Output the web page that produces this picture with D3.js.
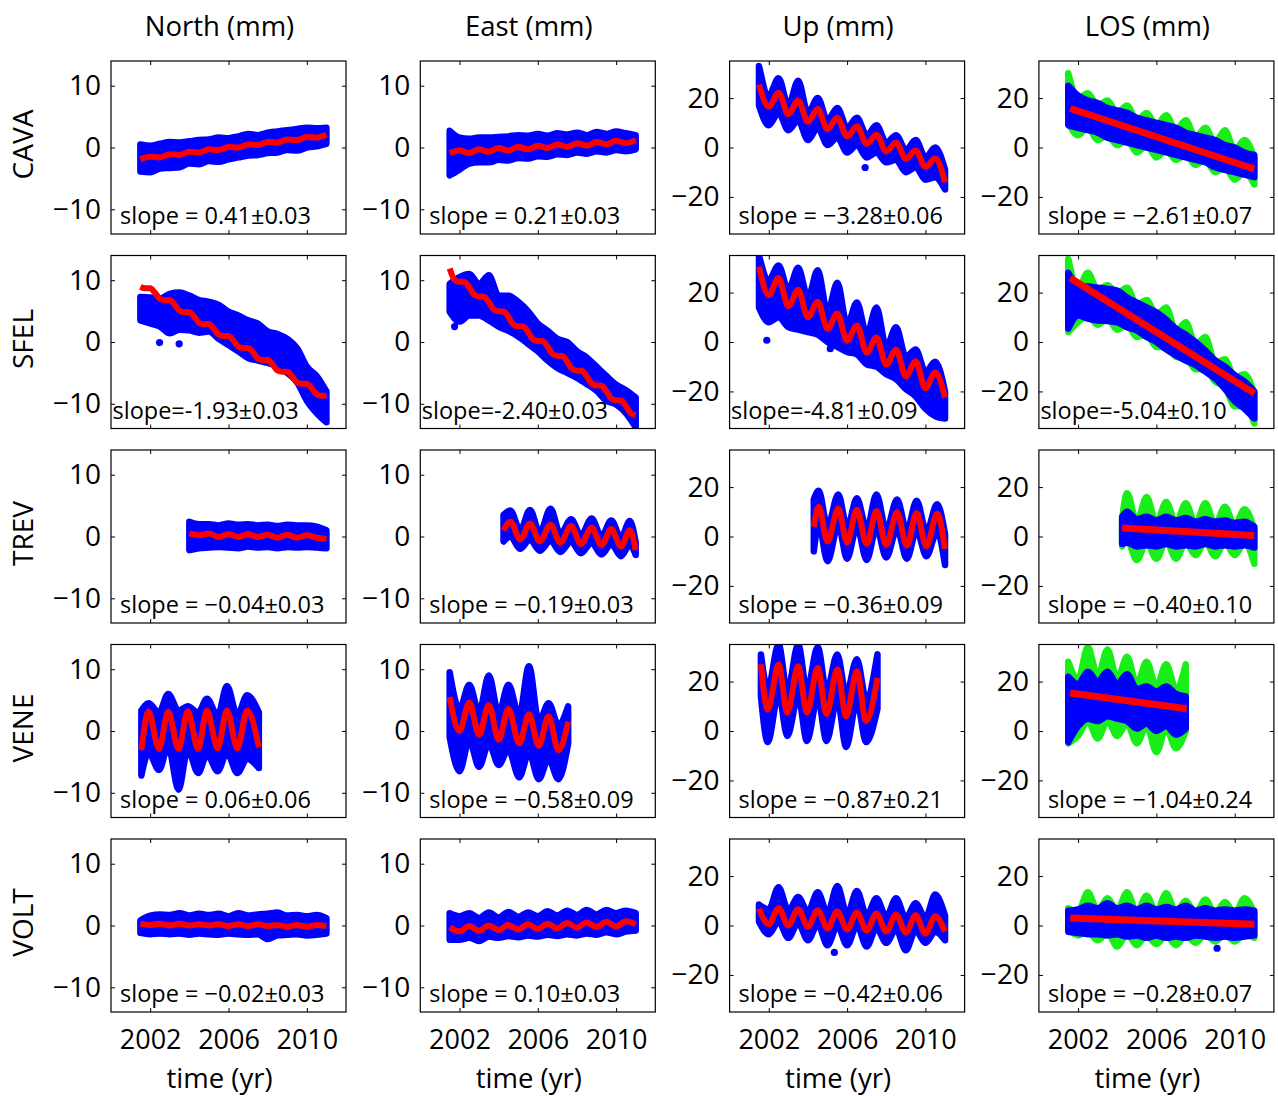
<!DOCTYPE html>
<html><head><meta charset="utf-8">
<script src="https://cdn.jsdelivr.net/npm/d3@7"></script>
<style>body{margin:0;background:#fff}svg{display:block}</style>
</head><body><svg id="c" width="1278" height="1096"></svg>
<script>
// ---------- labels ----------
const stations = ["CAVA","SFEL","TREV","VENE","VOLT"];
const components = ["North (mm)","East (mm)","Up (mm)","LOS (mm)"];
const xTicks = [2002, 2006, 2010];
const yTicksHoriz = [-10, 0, 10];
const yTicksVert = [-20, 0, 20];
const xLabel = "time (yr)";
const slopeLabels = [
  ["slope = 0.41\u00b10.03","slope = 0.21\u00b10.03","slope = \u22123.28\u00b10.06","slope = \u22122.61\u00b10.07"],
  ["slope=-1.93\u00b10.03","slope=-2.40\u00b10.03","slope=-4.81\u00b10.09","slope=-5.04\u00b10.10"],
  ["slope = \u22120.04\u00b10.03","slope = \u22120.19\u00b10.03","slope = \u22120.36\u00b10.09","slope = \u22120.40\u00b10.10"],
  ["slope = 0.06\u00b10.06","slope = \u22120.58\u00b10.09","slope = \u22120.87\u00b10.21","slope = \u22121.04\u00b10.24"],
  ["slope = \u22120.02\u00b10.03","slope = 0.10\u00b10.03","slope = \u22120.42\u00b10.06","slope = \u22120.28\u00b10.07"]
];

// ---------- time grids ----------
const G = [2001.5,2002,2002.5,2003,2003.5,2004,2004.5,2005,2005.5,2006,2006.5,2007,2007.5,2008,2008.5,2009,2009.5,2010,2010.5,2011];
const Q = [2001.5,2001.75,2002,2002.25,2002.5,2002.75,2003,2003.25,2003.5,2003.75,2004,2004.25,2004.5,2004.75,2005,2005.25,2005.5,2005.75,2006,2006.25,2006.5,2006.75,2007,2007.25,2007.5,2007.75,2008,2008.25,2008.5,2008.75,2009,2009.25,2009.5,2009.75,2010,2010.25,2010.5,2010.75,2011];

// ---------- CAVA ----------
const CAVA_N_fit = [-1.9,-1.5,-1.6,-1.1,-1.2,-0.7,-0.8,-0.3,-0.4,0.1,0.0,0.5,0.4,0.9,0.8,1.3,1.2,1.7,1.6,2.1];
const CAVA_N_hi  = [0.5,0.3,0.6,0.9,0.8,1.0,1.2,1.3,1.6,1.5,1.8,2.2,2.0,2.4,2.6,2.8,3.0,3.2,3.1,3.2];
const CAVA_N_lo  = [-3.9,-4.0,-3.4,-3.3,-3.2,-2.6,-2.7,-2.2,-2.3,-1.9,-1.6,-1.3,-1.2,-0.9,-0.8,-0.4,-0.5,0.0,0.2,0.6];
const CAVA_E_fit = [-0.9,-0.5,-0.9,-0.3,-0.7,-0.1,-0.5,0.1,-0.3,0.3,-0.1,0.5,0.1,0.7,0.3,0.9,0.5,1.1,0.7,1.2];
const CAVA_E_hi  = [2.7,1.6,1.4,1.6,1.6,1.7,1.8,2.0,1.9,2.2,1.9,2.3,2.1,2.4,2.0,2.5,2.2,2.6,2.3,2.0];
const CAVA_E_lo  = [-4.5,-3.6,-2.6,-2.4,-2.4,-2.0,-2.1,-1.7,-1.8,-1.4,-1.5,-1.1,-1.2,-0.8,-1.0,-0.6,-0.8,-0.4,-0.6,-0.3];
const CAVA_U_fit = [25.5,16.5,22.2,13.5,19.0,10.4,15.6,7.4,12.0,4.5,8.6,1.5,5.2,-1.6,2.0,-4.6,-1.2,-7.9,-4.5,-14.0];
const CAVA_U_hi  = [33,21,28,17,27,14,20,11,16,8,12,5,9,2,5,-1,3,-4,0,-9];
const CAVA_U_lo  = [17,9,14,7,11,3,8,1,4,-2,1,-4,-2,-6,-5,-10,-8,-13,-12,-17];
const CAVA_U_out = [[2006.92,-8.1]];
const CAVA_L_hi  = [25,21,19,18,16,15,14,12,11,10,9,8,6,5,4,3,1,0,-2,-3];
const CAVA_L_lo  = [9,8,7,6,4,3,2,1,0,-1,-2,-3,-4,-5,-6,-8,-9,-10,-11,-12];
const CAVA_L_ghi = [30,20,22,17,19,14,17,11,14,9,13,7,11,4,8,2,7,-1,3,-4];
const CAVA_L_glo = [10,5,8,3,5,1,3,-2,1,-4,-1,-5,-3,-7,-5,-10,-8,-13,-10,-15];
const CAVA_L_lineT = [2001.6, 2011.0];
const CAVA_L_line  = [15.8, -8.7];

// ---------- SFEL ----------
const SFEL_N_fit = [8.90,8.68,8.69,7.95,6.97,6.75,6.76,6.02,5.04,4.82,4.83,4.09,3.11,2.89,2.90,2.16,1.18,0.96,0.97,0.23,-0.75,-0.97,-0.96,-1.70,-2.68,-2.90,-2.89,-3.63,-4.61,-4.83,-4.82,-5.56,-6.54,-6.76,-6.75,-7.49,-8.47,-8.69,-8.68];
const SFEL_N_hi  = [7.3,7.2,7.0,7.8,8.0,7.5,6.8,6.5,6.0,4.9,4.3,3.5,3.0,1.7,1.3,0.5,-1.0,-4.0,-5.5,-8.0];
const SFEL_N_lo  = [3.5,3.0,2.5,1.4,2.0,1.9,1.5,1.7,0.5,-0.5,-1.5,-2.6,-3.0,-3.4,-4.0,-5.0,-6.5,-9.5,-11.5,-13.0];
const SFEL_N_out = [[2002.48,-0.1],[2003.48,-0.3]];
const SFEL_E_fit = [11.9,10.07,9.76,9.73,8.84,7.67,7.36,7.33,6.44,5.27,4.96,4.93,4.04,2.87,2.56,2.53,1.64,0.47,0.16,0.13,-0.76,-1.93,-2.24,-2.27,-3.16,-4.33,-4.64,-4.67,-5.56,-6.73,-7.04,-7.07,-7.96,-9.13,-9.44,-9.47,-10.36,-11.53,-11.84];
const SFEL_E_hi  = [9.4,10.5,11.0,9.4,10.8,7.5,7.5,6.5,5.0,3.0,1.8,0.5,0.0,-1.5,-2.5,-4.0,-5.5,-6.9,-7.8,-9.0];
const SFEL_E_lo  = [4.9,3.3,4.3,4.3,3.5,2.5,1.8,0.9,-0.3,-1.5,-3.0,-4.2,-5.0,-5.8,-6.8,-7.9,-9.5,-10.1,-11.5,-13.8];
const SFEL_E_out = [[2001.75,2.5]];
const SFEL_U_fit = [30.5,19.0,25.9,14.5,21.1,10.0,16.3,5.3,11.5,0.5,6.7,-4.3,1.8,-9.1,-3.0,-13.9,-7.8,-18.7,-12.3,-22.5];
const SFEL_U_hi  = [35,25,31,21,30,18,29,12,24,7,16,3,14,-2,6,-6,-3,-12,-8,-20];
const SFEL_U_lo  = [14,8,10,6,5,4,3,0,-2,-4,-5,-9,-10,-13,-15,-19,-22,-27,-30,-31];
const SFEL_U_out = [[2001.9,0.7],[2005.14,-2.7]];
const SFEL_L_hi  = [28,22.8,22.5,22,21.5,20.8,18,16,14,12,9,5.4,3,0,-3.5,-7.4,-10,-13.4,-16,-20];
const SFEL_L_lo  = [5.4,10.7,9.5,8.7,8.5,8,6,4.7,2,0,-3,-5.4,-7.5,-9.4,-12,-14.8,-19,-24,-27,-31];
const SFEL_L_ghi = [33.6,21.8,28,21,23,19.8,22,15,17,11,14,4.4,8,-1,2,-8.4,-7,-14.4,-13,-21];
const SFEL_L_glo = [4,8,10.5,7,9.5,5,7,2,3,-2,-2,-6,-6.5,-11,-11,-16,-18,-26,-26,-33];
const SFEL_L_lineT = [2001.6, 2011.0];
const SFEL_L_line  = [25.9, -20.8];

// ---------- TREV ----------
const TREV_N_t   = [2004,2004.5,2005,2005.5,2006,2006.5,2007,2007.5,2008,2008.5,2009,2009.5,2010,2010.5,2011];
const TREV_N_fit = [0.5,0.2,0.5,-0.1,0.4,-0.1,0.4,-0.1,0.3,-0.2,0.3,-0.2,0.2,-0.2,-0.4];
const TREV_N_hi  = [2.4,2.0,2.0,1.8,2.1,1.9,2.0,1.8,1.9,1.7,1.9,1.8,1.8,1.6,1.0];
const TREV_N_lo  = [-2.2,-1.9,-1.8,-1.7,-1.8,-1.9,-1.6,-1.8,-1.7,-1.9,-1.7,-1.8,-1.7,-1.8,-1.9];
const TREV_E_t   = [2004.25,2004.6,2005.1,2005.6,2006.1,2006.65,2007.15,2007.7,2008.2,2008.75,2009.25,2009.75,2010.25,2010.7,2011];
const TREV_E_fit = [1.0,2.4,-0.5,2.1,-0.8,1.9,-1.0,1.7,-1.2,1.4,-1.4,1.2,-1.6,1.0,-2.2];
const TREV_E_hi  = [3.5,4.2,1.0,4.3,0.6,4.5,0.4,2.8,0.2,2.9,0.0,2.6,-0.2,2.5,-1.0];
const TREV_E_lo  = [-0.8,0.0,-2.0,-0.5,-2.3,-0.7,-2.5,-0.8,-2.7,-1.0,-2.9,-1.2,-3.2,-1.3,-3.0];
const TREV_U_t   = [2004.3,2004.55,2005,2005.55,2006,2006.5,2007,2007.5,2008,2008.55,2009.05,2009.55,2010.05,2010.6,2011];
const TREV_U_fit = [4.0,12.0,-2.0,11.3,-2.5,10.8,-3.0,10.3,-3.4,9.8,-3.7,9.5,-4.0,9.2,-5.0];
const TREV_U_hi  = [15,18.5,4,17,3.5,15.5,3,17,2.6,15,2.3,14.5,2,13,1];
const TREV_U_lo  = [-6,5,-10,4.5,-9,4,-9.5,3.5,-8.5,3,-9,2.5,-8,2,-11.5];
const TREV_L_t   = [2004.25,2004.5,2005,2005.5,2006,2006.5,2007,2007.5,2008,2008.5,2009,2009.5,2010,2010.5,2011];
const TREV_L_hi  = [8,10,7,8,6.5,8,6.5,7.5,6,7,6,6.5,5.5,6,4];
const TREV_L_lo  = [-3,-2.5,-4,-3.5,-4,-3,-4,-3.5,-4,-3,-4,-3.5,-4,-3.5,-4.5];
const TREV_L_ghi = [7,17.5,6,16,5.5,14,5.5,13.5,5,13.5,5,12,4.5,11,3];
const TREV_L_glo = [-4,-1.5,-9.5,-2.5,-9,-2,-9,-2.5,-7.5,-2,-8,-2.5,-7.5,-2.5,-11];
const TREV_L_lineT = [2004.25, 2011.0];
const TREV_L_line  = [3.4, 0.4];

// ---------- VENE ----------
const VENE_N_t   = [2001.55,2001.92,2002.45,2002.92,2003.45,2003.92,2004.45,2004.9,2005.45,2005.92,2006.45,2006.95,2007.55];
const VENE_N_fit = [-3.1,3.1,-2.9,3.1,-2.9,3.2,-2.9,3.3,-2.8,3.3,-2.8,3.3,-2.6];
const VENE_N_hi  = [3.3,4.5,3.0,6.0,3.3,4.0,3.0,5.2,2.5,7.3,2.5,5.8,3.0];
const VENE_N_lo  = [-7.2,-3.5,-6.3,-2.5,-9.5,-3.0,-6.8,-3.8,-6.5,-3.5,-6.8,-4.5,-6.0];
const VENE_E_t   = [2001.5,2002,2002.5,2003,2003.5,2004,2004.5,2005.05,2005.55,2006.05,2006.55,2007.05,2007.55];
const VENE_E_fit = [5.5,0.0,4.6,-0.6,4.2,-1.4,3.6,-2.0,2.7,-2.4,2.4,-3.1,1.5];
const VENE_E_hi  = [9.5,3.5,7.5,3.0,9.0,2.8,7.5,2.5,10.5,1.5,4.5,1.0,4.0];
const VENE_E_lo  = [-1.0,-6.5,-1.5,-5.8,-2.0,-5.5,-3.0,-7.5,-3.5,-7.8,-4.5,-7.8,-2.0];
const VENE_U_t   = [2001.6,2001.95,2002.5,2002.95,2003.5,2003.95,2004.5,2004.95,2005.5,2005.95,2006.5,2006.97,2007.55];
const VENE_U_fit = [27,8.6,26.9,7.5,26.2,7.5,25.5,6.9,24.9,5.9,24.2,4.0,21.5];
const VENE_U_hi  = [31,17,35,16,35,16.5,34,16,31,15,29,13,31];
const VENE_U_lo  = [14,-4.5,15,-2.0,14,-4.0,13.5,-4.0,13,-6.5,12,-4.5,9];
const VENE_L_t   = [2001.5,2002,2002.5,2003,2003.5,2004,2004.5,2005,2005.5,2006,2006.5,2007,2007.5];
const VENE_L_hi  = [22,19,24,20,24,19,23,17,18,16,18,15,14];
const VENE_L_lo  = [-4.5,2,5,4,6,5,4,1,3,0,2,-1.5,1];
const VENE_L_ghi = [28,21,34,22,33,21,30,19,28,18,27,17,27];
const VENE_L_glo = [-5,-2,4,-3,4,-2,3,-5,2,-8.5,1,-7,0];
const VENE_L_lineT = [2001.6, 2007.55];
const VENE_L_line  = [15.4, 9.0];

// ---------- VOLT ----------
const VOLT_N_fit = [0.3,0.1,0.3,0.0,0.3,0.0,0.2,0.0,0.2,-0.1,0.2,-0.1,0.2,-0.1,0.1,-0.2,0.1,-0.2,0.1,-0.1];
const VOLT_N_hi  = [0.8,1.6,1.8,1.7,2.0,1.6,1.9,1.7,1.9,1.5,2.0,1.6,1.8,1.9,2.1,1.6,1.7,1.5,1.7,1.2];
const VOLT_N_lo  = [-1.2,-1.4,-1.3,-1.4,-1.3,-1.5,-1.3,-1.4,-1.5,-1.3,-1.4,-1.5,-1.4,-2.2,-1.6,-1.5,-1.4,-1.6,-1.5,-1.3];
const VOLT_E_fit = [-0.3,-0.95,-0.1,-0.85,0.0,-0.75,0.1,-0.65,0.2,-0.55,0.3,-0.45,0.4,-0.35,0.5,-0.25,0.6,-0.15,0.7,0.2];
const VOLT_E_hi  = [2.0,1.5,2.0,1.2,2.1,1.3,2.2,1.4,2.1,1.5,2.3,1.6,2.4,1.7,2.5,1.8,2.5,2.0,2.4,2.0];
const VOLT_E_lo  = [-2.3,-2.3,-2.0,-2.5,-1.8,-2.0,-1.7,-1.9,-1.6,-1.8,-1.5,-1.7,-1.4,-1.6,-1.3,-1.5,-1.1,-1.4,-1.0,-0.8];
const VOLT_U_fit = [6.8,0.5,7.0,0.0,6.6,-0.5,6.2,-1.2,5.7,-1.6,5.3,-2.0,4.9,-2.5,4.5,-2.9,4.1,-3.3,3.7,-2.5];
const VOLT_U_hi  = [8.5,6.5,15.5,6.0,11.5,5.5,13.5,5.0,16.0,4.5,14.0,4.0,11.0,3.5,11.0,3.0,9.0,3.0,12.5,4.0];
const VOLT_U_lo  = [1.5,-3.5,1.5,-5.0,1.0,-6.0,0.5,-8.0,0.0,-8.0,0.0,-8.5,-1.0,-7.0,-1.5,-10.0,-2.0,-7.0,-2.5,-6.0];
const VOLT_U_out = [[2005.35,-10.9]];
const VOLT_L_hi  = [6,6.5,8,7,9,7,8,6.5,8,6.5,7.5,6.5,8,6,7,6,6.5,6,6.5,6];
const VOLT_L_lo  = [-2.5,-3,-3.5,-3.5,-4,-3.5,-4.5,-4,-5,-4,-5,-4.5,-5,-4,-4.5,-5,-4.5,-5,-4.5,-4];
const VOLT_L_ghi = [7,5.5,13.5,6,11,6,13.5,5.5,12,5.5,13,5.5,10,5,10.5,5,9.5,5,11,5];
const VOLT_L_glo = [-1.5,-4,-2.5,-6,-3,-8.5,-3.5,-8,-4,-7.5,-4,-8,-4,-7,-3.5,-6.5,-3.5,-6.5,-3.5,-5];
const VOLT_L_out = [[2009.1,-9.2]];
const VOLT_L_lineT = [2001.6, 2011.0];
const VOLT_L_line  = [3.0, 0.5];

// ---------- panel table (row, col) ----------
const panels = [
  [ {fitT:G,fit:CAVA_N_fit,bandT:G,hi:CAVA_N_hi,lo:CAVA_N_lo},
    {fitT:G,fit:CAVA_E_fit,bandT:G,hi:CAVA_E_hi,lo:CAVA_E_lo},
    {fitT:G,fit:CAVA_U_fit,bandT:G,hi:CAVA_U_hi,lo:CAVA_U_lo,out:CAVA_U_out},
    {fitT:CAVA_L_lineT,fit:CAVA_L_line,bandT:G,hi:CAVA_L_hi,lo:CAVA_L_lo,ghi:CAVA_L_ghi,glo:CAVA_L_glo} ],
  [ {fitT:Q,fit:SFEL_N_fit,bandT:G,hi:SFEL_N_hi,lo:SFEL_N_lo,out:SFEL_N_out},
    {fitT:Q,fit:SFEL_E_fit,bandT:G,hi:SFEL_E_hi,lo:SFEL_E_lo,out:SFEL_E_out},
    {fitT:G,fit:SFEL_U_fit,bandT:G,hi:SFEL_U_hi,lo:SFEL_U_lo,out:SFEL_U_out},
    {fitT:SFEL_L_lineT,fit:SFEL_L_line,bandT:G,hi:SFEL_L_hi,lo:SFEL_L_lo,ghi:SFEL_L_ghi,glo:SFEL_L_glo} ],
  [ {fitT:TREV_N_t,fit:TREV_N_fit,bandT:TREV_N_t,hi:TREV_N_hi,lo:TREV_N_lo},
    {fitT:TREV_E_t,fit:TREV_E_fit,bandT:TREV_E_t,hi:TREV_E_hi,lo:TREV_E_lo},
    {fitT:TREV_U_t,fit:TREV_U_fit,bandT:TREV_U_t,hi:TREV_U_hi,lo:TREV_U_lo},
    {fitT:TREV_L_lineT,fit:TREV_L_line,bandT:TREV_L_t,hi:TREV_L_hi,lo:TREV_L_lo,ghi:TREV_L_ghi,glo:TREV_L_glo} ],
  [ {fitT:VENE_N_t,fit:VENE_N_fit,bandT:VENE_N_t,hi:VENE_N_hi,lo:VENE_N_lo},
    {fitT:VENE_E_t,fit:VENE_E_fit,bandT:VENE_E_t,hi:VENE_E_hi,lo:VENE_E_lo},
    {fitT:VENE_U_t,fit:VENE_U_fit,bandT:VENE_U_t,hi:VENE_U_hi,lo:VENE_U_lo},
    {fitT:VENE_L_lineT,fit:VENE_L_line,bandT:VENE_L_t,hi:VENE_L_hi,lo:VENE_L_lo,ghi:VENE_L_ghi,glo:VENE_L_glo} ],
  [ {fitT:G,fit:VOLT_N_fit,bandT:G,hi:VOLT_N_hi,lo:VOLT_N_lo},
    {fitT:G,fit:VOLT_E_fit,bandT:G,hi:VOLT_E_hi,lo:VOLT_E_lo},
    {fitT:G,fit:VOLT_U_fit,bandT:G,hi:VOLT_U_hi,lo:VOLT_U_lo,out:VOLT_U_out},
    {fitT:VOLT_L_lineT,fit:VOLT_L_line,bandT:G,hi:VOLT_L_hi,lo:VOLT_L_lo,ghi:VOLT_L_ghi,glo:VOLT_L_glo,out:VOLT_L_out} ]
];

// ---------- drawing ----------
const FONT = "'Open Sans', 'DejaVu Sans', sans-serif";
const BLUE = "#0000ff", RED = "#ff0000", GREEN = "#19ee19";
const W = 235, H = 173;
const colLeft = j => 111 + j * 309.3;
const rowTop = i => 61 + i * 194.5;
const svg = d3.select("#c");

const x = d3.scaleLinear().domain([2000, 2012]).range([0, W]);
const yNE = d3.scaleLinear().domain([-14, 14]).range([H, 0]);
const yUL = d3.scaleLinear().domain([-35, 35]).range([H, 0]);

function band(g, t, hi, lo, y, color) {
  const pts = t.map((d, k) => ({t: d, hi: hi[k], lo: lo[k]}));
  const area = d3.area().x(d => x(d.t)).y0(d => y(d.lo)).y1(d => y(d.hi)).curve(d3.curveMonotoneX);
  g.append("path").attr("d", area(pts))
    .attr("fill", color).attr("stroke", color).attr("stroke-width", 6.5)
    .attr("stroke-linejoin", "round");
}

panels.forEach((row, i) => {
  row.forEach((p, j) => {
    const y = j < 2 ? yNE : yUL;
    const g = svg.append("g").attr("transform", `translate(${colLeft(j)},${rowTop(i)})`);
    const cid = `clip${i}_${j}`;
    g.append("clipPath").attr("id", cid).append("rect").attr("width", W).attr("height", H);
    const dg = g.append("g").attr("clip-path", `url(#${cid})`);

    if (p.ghi) band(dg, p.bandT, p.ghi, p.glo, y, GREEN);
    band(dg, p.bandT, p.hi, p.lo, y, BLUE);
    if (p.out) dg.selectAll("circle.o").data(p.out).join("circle")
      .attr("cx", d => x(d[0])).attr("cy", d => y(d[1])).attr("r", 3.6).attr("fill", BLUE);

    const fitPts = p.fitT.map((d, k) => [d, p.fit[k]]);
    const line = d3.line().x(d => x(d[0])).y(d => y(d[1])).curve(d3.curveMonotoneX);
    dg.append("path").attr("d", line(fitPts)).attr("fill", "none")
      .attr("stroke", RED).attr("stroke-width", j === 3 ? 7 : 6)
      .attr("stroke-linecap", "butt").attr("stroke-linejoin", "round");

    // axes
    const yt = j < 2 ? yTicksHoriz : yTicksVert;
    const left = g.append("g").call(d3.axisLeft(y).tickValues(yt).tickSize(-4).tickPadding(10)
      .tickFormat(d => d < 0 ? "\u2212" + Math.abs(d) : d));
    const right = g.append("g").attr("transform", `translate(${W},0)`)
      .call(d3.axisRight(y).tickValues(yt).tickSize(-4).tickFormat(""));
    const top = g.append("g").call(d3.axisTop(x).tickValues(xTicks).tickSize(-4).tickFormat(""));
    const bottom = g.append("g").attr("transform", `translate(0,${H})`)
      .call(d3.axisBottom(x).tickValues(xTicks).tickSize(-4).tickPadding(18)
        .tickFormat(i === stations.length - 1 ? d3.format("d") : ""));
    [left, right, top, bottom].forEach(a => {
      a.attr("font-family", FONT).attr("font-size", 28);
      a.select(".domain").remove();
      a.selectAll("line").attr("stroke", "#000").attr("stroke-width", 1);
      a.selectAll("text").attr("fill", "#000");
    });
    bottom.attr("font-size", 27);

    g.append("rect").attr("width", W).attr("height", H)
      .attr("fill", "none").attr("stroke", "#000").attr("stroke-width", 1.2);

    const lab = slopeLabels[i][j];
    g.append("text").attr("x", lab.indexOf(" ") < 0 ? 1.5 : 9).attr("y", H - 10)
      .attr("font-family", FONT).attr("font-size", 23.5).attr("fill", "#000").text(lab);
  });
});

// column titles and x-axis titles
components.forEach((c, j) => {
  svg.append("text").attr("x", colLeft(j) + W / 2 - 9).attr("y", 36)
    .attr("text-anchor", "middle").attr("font-family", FONT).attr("font-size", 27.5).text(c);
  svg.append("text").attr("x", colLeft(j) + W / 2 - 9).attr("y", 1088)
    .attr("text-anchor", "middle").attr("font-family", FONT).attr("font-size", 27.5).text(xLabel);
});
// row labels
stations.forEach((s, i) => {
  const cy = rowTop(i) + H / 2 - 3;
  svg.append("text").attr("transform", `translate(33,${cy}) rotate(-90)`)
    .attr("text-anchor", "middle").attr("font-family", FONT).attr("font-size", 28).text(s);
});
</script></body></html>
